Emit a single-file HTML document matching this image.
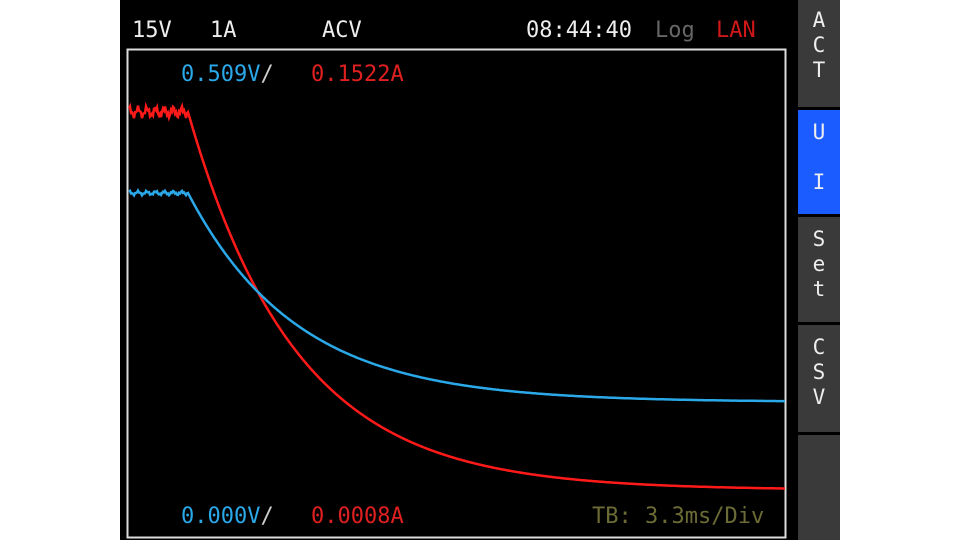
<!DOCTYPE html>
<html><head><meta charset="utf-8"><style>
body{margin:0;width:960px;height:540px;background:#fff;position:relative;overflow:hidden;font-family:"DejaVu Sans Mono","Liberation Mono",monospace;}
#scr{position:absolute;left:120px;top:0;width:677px;height:540px;background:#000;}
.t{position:absolute;font-size:22px;white-space:nowrap;}
#side{position:absolute;left:797px;top:0;width:43px;height:540px;background:#000;}
.b{position:absolute;left:1px;width:42px;background:#3a3a3a;color:#eee;font-size:21px;text-align:center;line-height:25px;}
</style></head><body>
<div id="scr"></div>
<div class="t" style="left:132px;top:18px;color:#eee">15V</div>
<div class="t" style="left:210px;top:18px;color:#eee">1A</div>
<div class="t" style="left:322px;top:18px;color:#eee">ACV</div>
<div class="t" style="left:526px;top:18px;color:#eee">08:44:40</div>
<div class="t" style="left:655px;top:18px;color:#666">Log</div>
<div class="t" style="left:716px;top:18px;color:#d01818">LAN</div>
<svg style="position:absolute;left:0;top:0" width="960" height="540">
<rect x="127.5" y="49.5" width="658" height="488" fill="none" stroke="#ddd" stroke-width="2"/>
<path id="red" fill="none" stroke="#ff1a1a" stroke-width="2.5"/>
<path id="blue" fill="none" stroke="#2aa8e8" stroke-width="2.5"/>
</svg>
<div class="t" style="left:181px;top:62px;color:#2aa8e8">0.509V<span style="color:#ccc">/</span></div>
<div class="t" style="left:311px;top:62px;color:#e02020">0.1522A</div>
<div class="t" style="left:181px;top:504px;color:#2aa8e8">0.000V<span style="color:#ccc">/</span></div>
<div class="t" style="left:311px;top:504px;color:#e02020">0.0008A</div>
<div class="t" style="left:592px;top:504px;color:#6b6b35">TB: 3.3ms/Div</div>
<div id="side">
<div class="b" style="top:0;height:107px;padding-top:8px;box-sizing:border-box">A<br>C<br>T</div>
<div class="b" style="top:110px;height:104px;background:#1a5cff;padding-top:10px;box-sizing:border-box">U<br><br>I</div>
<div class="b" style="top:217px;height:105px;padding-top:10px;box-sizing:border-box">S<br>e<br>t</div>
<div class="b" style="top:325px;height:107px;padding-top:10px;box-sizing:border-box">C<br>S<br>V</div>
<div class="b" style="top:435px;height:105px"></div>
</div>
<script>
function mk(flat,asym,tau,noise){var d="",s=7;for(var x=129;x<=785;x++){var y;if(x<188)y=flat+Math.sin(x*s)*noise+Math.cos(x*2.3)*noise*0.6;else y=asym-(asym-flat)*Math.exp(-(x-188)/tau);d+=(x==129?"M":"L")+x+" "+y.toFixed(1);}return d;}
document.getElementById("red").setAttribute("d",mk(112,490,108,4));
document.getElementById("blue").setAttribute("d",mk(193,402,109,1.5));
</script>
</body></html>
